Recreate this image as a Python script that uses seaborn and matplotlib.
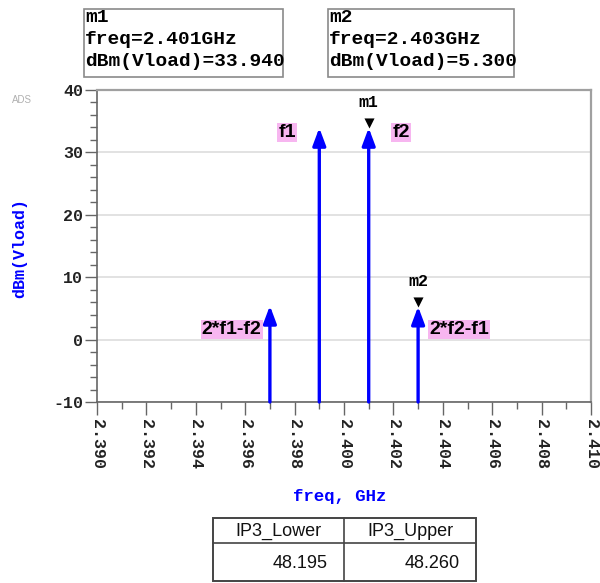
"""Two-tone IP3 spectrum, ADS-style recreation."""

import matplotlib
matplotlib.use("Agg")
import matplotlib.pyplot as plt
from matplotlib.patches import Rectangle
from matplotlib.lines import Line2D
from matplotlib.ticker import MultipleLocator
import pandas as pd
import seaborn as sns

# ── Data ──────────────────────────────────────────────────────────────────────

tone_freqs = [2.397, 2.399, 2.401, 2.403]          # GHz
tone_dbm = [5.43, 33.94, 33.94, 5.30]              # dBm(Vload)
tone_names = ["2*f1-f2", "f1", "f2", "2*f2-f1"]

marker_names = ["m1", "m2"]
marker_freqs = [2.401, 2.403]
marker_dbm = [33.94, 5.30]

ip3_headers = ["IP3_Lower", "IP3_Upper"]
ip3_values = [48.195, 48.260]

x_range = (2.390, 2.410)
y_range = (-10, 40)

# ── Style ─────────────────────────────────────────────────────────────────────

sns.set_theme(style="white")
plt.rcParams["font.family"] = ["Liberation Sans", "DejaVu Sans"]

MONO = ["Liberation Mono", "DejaVu Sans Mono"]
BLUE = "#0000ff"
PINK = "#f7b6f0"
W, H = 600, 583

fig = plt.figure(figsize=(6, 5.83), dpi=100)
ax = fig.add_axes([97 / W, 1 - 402 / H, 494 / W, 312 / H])

df = pd.DataFrame({"freq": tone_freqs, "dBm": tone_dbm, "name": tone_names})
df_m = pd.DataFrame({"freq": marker_freqs, "dBm": marker_dbm, "name": marker_names})

# stems with arrow heads
for f, v in zip(df["freq"], df["dBm"]):
    ax.annotate("", xy=(f, v), xytext=(f, y_range[0]),
                arrowprops=dict(arrowstyle="-|>,head_length=0.75,head_width=0.28",
                                mutation_scale=14, lw=2.4, color=BLUE,
                                shrinkA=0, shrinkB=0), zorder=4)

# marker triangles (tip on the data point)
tri = [(0, 0), (-0.6, 1.2), (0.6, 1.2), (0, 0)]
sns.scatterplot(data=df_m, x="freq", y="dBm", marker=tri, s=210,
                color="black", edgecolor="black", linewidth=0, zorder=5,
                legend=False, ax=ax)
for _, r in df_m.iterrows():
    ax.annotate(r["name"], xy=(r["freq"], r["dBm"]), xytext=(0, 18),
                textcoords="offset points", ha="center", va="center",
                family=MONO, fontweight="bold", fontsize=12, color="black")

# tone labels with pink background
label_spec = {
    "2*f1-f2": (-6, 1.6, "right"),
    "f1": (-17, 33.2, "right"),
    "f2": (17, 33.2, "left"),
    "2*f2-f1": (8, 1.6, "left"),
}
for _, r in df.iterrows():
    dx, y, ha = label_spec[r["name"]]
    ax.annotate(r["name"], xy=(r["freq"], y), xytext=(dx, 0),
                textcoords="offset points", ha=ha, va="center",
                fontsize=14, fontweight="bold", color="black",
                bbox=dict(boxstyle="square,pad=0.05", fc=PINK, ec="none"),
                zorder=6)

# axes
ax.set_xlim(*x_range)
ax.set_ylim(*y_range)
ax.xaxis.set_major_locator(MultipleLocator(0.002))
ax.xaxis.set_minor_locator(MultipleLocator(0.001))
ax.yaxis.set_major_locator(MultipleLocator(10))
ax.yaxis.set_minor_locator(MultipleLocator(2))
ax.set_xticklabels([f"{t:.3f}" for t in ax.get_xticks()], rotation=-90,
                   family=MONO, fontweight="bold", fontsize=12)
ax.set_yticklabels([f"{t:.0f}" for t in ax.get_yticks()],
                   family=MONO, fontweight="bold", fontsize=12)
ax.tick_params(axis="both", which="major", direction="out", length=9,
               width=1, color="#666666", labelcolor="#222222")
ax.tick_params(axis="both", which="minor", direction="out", length=5,
               width=1, color="#666666")
ax.tick_params(axis="x", which="major", pad=3)
ax.tick_params(axis="y", which="major", pad=1)
ax.tick_params(axis="both", which="both", bottom=True, left=True)
ax.grid(axis="y", which="major", color="#dddddd", lw=1.2)
ax.set_axisbelow(True)
for side in ("left", "bottom"):
    ax.spines[side].set_color("#666666")
    ax.spines[side].set_linewidth(1.2)
for side in ("top", "right"):
    ax.spines[side].set_color("#a0a0a0")
    ax.spines[side].set_linewidth(1.6)
ax.set_xlabel("")
ax.set_ylabel("")

fig.text(20 / W, 1 - 248 / H, "dBm(Vload)", rotation=90, ha="center", va="center",
         family=MONO, fontweight="bold", fontsize=12, color=BLUE)
fig.text(340 / W, 1 - 497 / H, "freq, GHz", ha="center", va="center",
         family=MONO, fontweight="bold", fontsize=12.5, color=BLUE)
fig.text(22 / W, 1 - 100 / H, "ADS", ha="center", va="center",
         fontsize=7, color="#b0b0b0")

# ── Marker readout boxes ──────────────────────────────────────────────────────

boxes = [(84, 283), (328, 514)]
for (x0, x1), name, f, v in zip(boxes, marker_names, marker_freqs, marker_dbm):
    fig.add_artist(Rectangle((x0 / W, 1 - 77 / H), (x1 - x0) / W, 68 / H,
                             transform=fig.transFigure, fill=False,
                             ec="#8a8a8a", lw=1.2))
    lines = [name, f"freq={f:.3f}GHz", f"dBm(Vload)={v:.3f}"]
    for yy, s in zip((17, 39, 62), lines):
        fig.text((x0 + 1) / W, 1 - yy / H, s, ha="left", va="center",
                 family=MONO, fontweight="bold", fontsize=14, color="black")

# ── IP3 table ─────────────────────────────────────────────────────────────────

tx0, tx1, txm = 213, 476, 344
ty0, ty1, tym = 518, 581, 543
fig.add_artist(Rectangle((tx0 / W, 1 - ty1 / H), (tx1 - tx0) / W, (ty1 - ty0) / H,
                         transform=fig.transFigure, fill=False, ec="#444444", lw=1.4))
fig.add_artist(Line2D([tx0 / W, tx1 / W], [1 - tym / H] * 2,
                      transform=fig.transFigure, color="#444444", lw=1.2))
fig.add_artist(Line2D([txm / W] * 2, [1 - ty0 / H, 1 - ty1 / H],
                      transform=fig.transFigure, color="#444444", lw=1.2))
cols = [(tx0, txm), (txm, tx1)]
for (c0, c1), head, val in zip(cols, ip3_headers, ip3_values):
    fig.text((c0 + c1) / 2 / W, 1 - 531 / H, head, ha="center", va="center",
             fontsize=13, color="#111111")
    fig.text((c1 - 16) / W, 1 - 564 / H, f"{val:.3f}", ha="right", va="center",
             fontsize=13, color="#111111")

fig.savefig("out.png", dpi=100)
